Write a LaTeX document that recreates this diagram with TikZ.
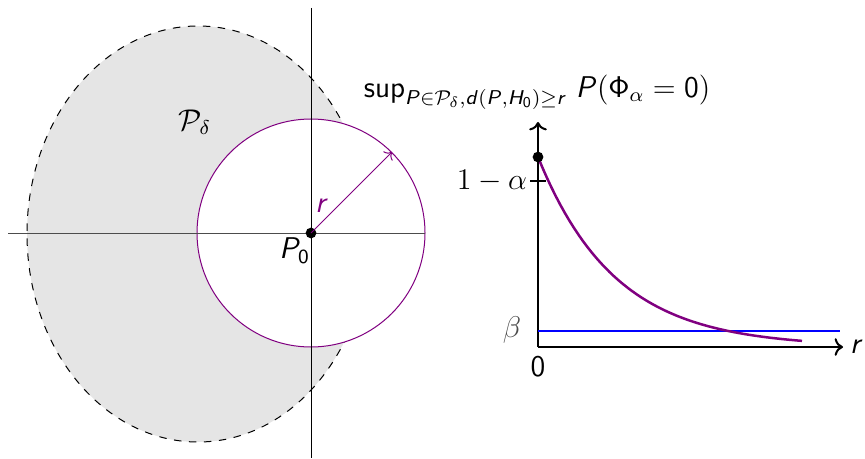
\documentclass[tikz,border=0pt]{standalone}
\usepackage{amsmath}
\DeclareMathAlphabet{\mathsfit}{OT1}{cmss}{m}{sl}
\DeclareMathAlphabet{\mathsfup}{OT1}{cmss}{m}{n}
\usetikzlibrary{arrows.meta}
\begin{document}
\begin{tikzpicture}[x=0.4pt,y=-0.4pt,
  every node/.style={font=\fontsize{12}{14}\selectfont},
  axisline/.style={line width=0.4pt},
  plotaxis/.style={line width=0.8pt,->},
  dot/.style={circle,fill=black,inner sep=0pt,minimum size=4.3pt}]
\useasboundingbox (0,0) rectangle (865,459);
% left figure
\draw[dashed,fill=black!10,line width=0.4pt] (198,234) ellipse [x radius=171,y radius=208];
\draw[violet,fill=white,line width=0.4pt] (311,233) circle [radius=114];
\coordinate (hl) at (8,233);
\coordinate (hr) at (425,233);
\coordinate (vt) at (311,8);
\coordinate (vb) at (311,458);
\draw[axisline,black!70] (hl) -- (hr);
\draw[axisline] (vt) -- (vb);
\node[dot] (p0) at (311,233) {};
\coordinate (rend) at (392,152);
\draw[violet,line width=0.4pt,->] (p0.center) -- (rend);
\node[text=violet] (rl) at (322,206) {$\mathsfit{r}$};
\node[anchor=north east,inner sep=1pt] (p0l) at (313,235) {$\mathsfit{P}_{\mathsfup{0}}$};
\node (pd) at (195,122) {$\mathcal{P}_\delta$};
% right plot
\coordinate (o) at (538,347);
\coordinate (yt) at (538,122);
\coordinate (xt) at (843,347);
\draw[plotaxis] (o) -- (yt);
\draw[plotaxis] (o) -- (xt);
\node[anchor=west,inner sep=1pt] (rlab) at (847,347) {$\mathsfit{r}$};
\node[anchor=north,inner sep=1pt] (zero) at (538,354) {$\mathsfup{0}$};
\coordinate (tl) at (530,181);
\coordinate (tr) at (546,181);
\draw[line width=0.5pt] (tl) -- (tr);
\node[anchor=east,inner sep=1pt] (oma) at (tl) {$1-\alpha$};
\draw[blue,line width=0.8pt] (538,331) coordinate (bl) -- (840,331) coordinate (br);
\node[anchor=east,text=black!70] (beta) at (530,330) {$\beta$};
\draw[violet,line width=1pt] plot[domain=0:264,samples=60] ({538+\x},{347-190*exp(-0.013*\x)});
\node[dot] (top) at (538,157) {};
\node (title) at (537,92) {$\mathsfup{sup}_{\mathsfit{P}\in\mathcal{P}_\delta,\mathsfit{d}\mathsfup{(}\mathsfit{P},\mathsfit{H}_{\mathsfup{0}}\mathsfup{)}\geq \mathsfit{r}}\;\mathsfit{P}\mathsfup{(}\mathsfup{\Phi}_\alpha=\mathsfup{0}\mathsfup{)}$};
\end{tikzpicture}
\end{document}
